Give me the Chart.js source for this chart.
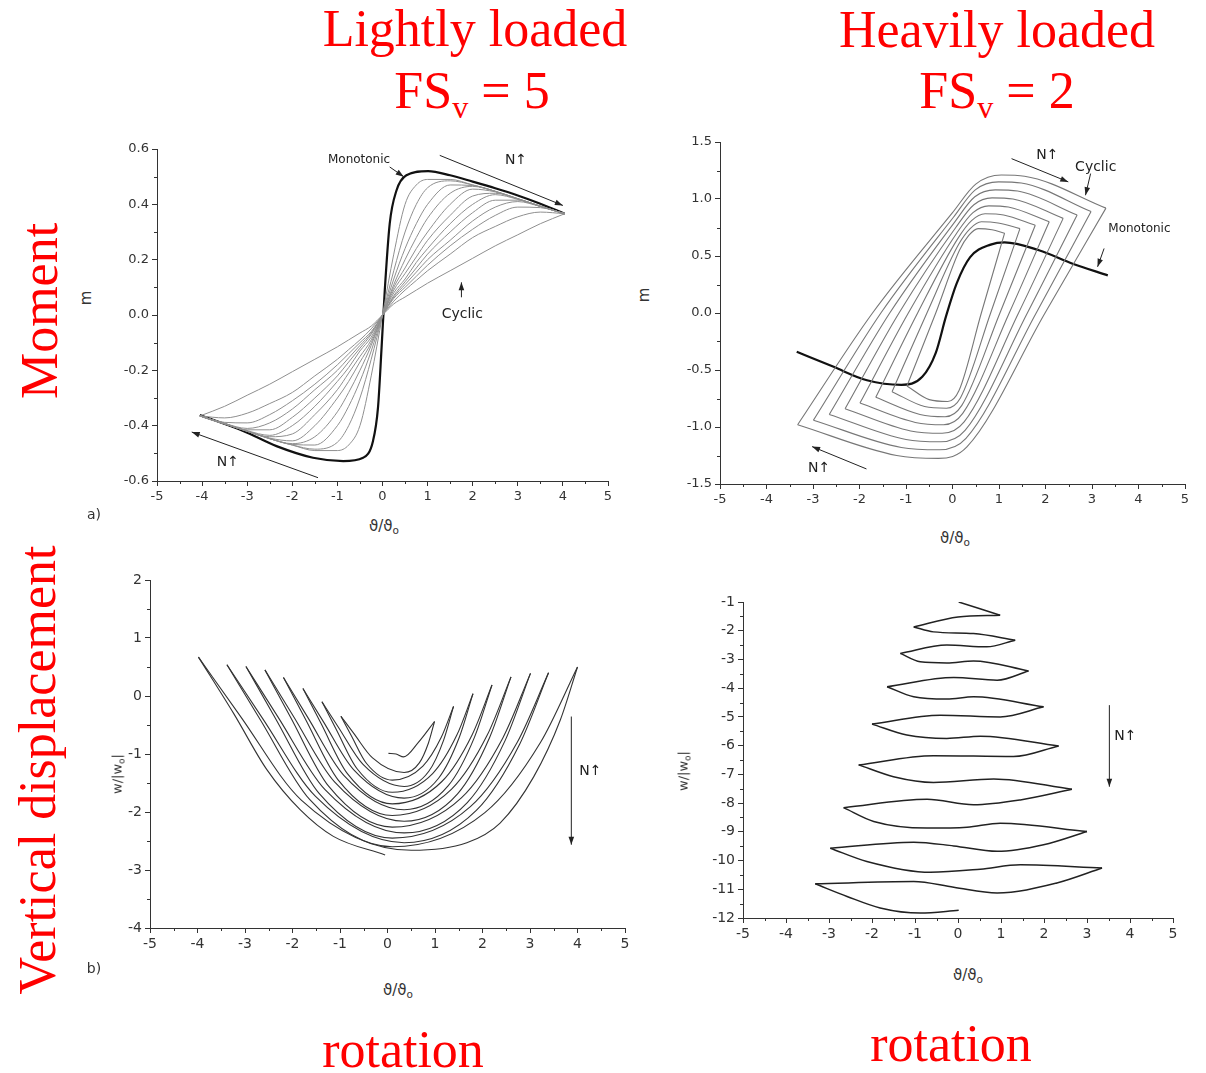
<!DOCTYPE html>
<html>
<head>
<meta charset="utf-8">
<script src="https://cdn.jsdelivr.net/npm/chart.js@4.4.1/dist/chart.umd.min.js"></script>
<style>
  body { margin: 0; background: #fff; }
  #page { position: relative; width: 1206px; height: 1073px; overflow: hidden; background: #fff; }
  canvas { position: absolute; }
  .red { position: absolute; color: #f00; font-family: 'Liberation Serif', 'Times New Roman', serif; font-size: 52px; line-height: 1; white-space: nowrap; transform: translateX(-50%); }
  .red sub { font-size: 0.62em; vertical-align: -0.3em; line-height: 0; }
  .redv { position: absolute; color: #f00; font-family: 'Liberation Serif', 'Times New Roman', serif; font-size: 52px; line-height: 1; white-space: nowrap; transform: translate(-50%, -50%) rotate(-90deg); }
  .lab { position: absolute; color: #333; font-family: 'DejaVu Sans', 'Liberation Sans', sans-serif; font-size: 15px; line-height: 1; white-space: nowrap; transform: translate(-50%, -50%); }
  .lab.v { transform: translate(-50%, -50%) rotate(-90deg); }
  .lab sub { font-size: 0.7em; vertical-align: -0.35em; line-height: 0; }
</style>
</head>
<body>
<div id="page">
  <div class="red" style="left:475px; top:3px">Lightly loaded</div>
  <div class="red" style="left:472px; top:65px">FS<sub>v</sub> = 5</div>
  <div class="red" style="left:997px; top:4px">Heavily loaded</div>
  <div class="red" style="left:997px; top:65px">FS<sub>v</sub> = 2</div>
  <div class="redv" style="left:40px; top:311px">Moment</div>
  <div class="redv" style="left:38px; top:770px">Vertical displacement</div>
  <div class="red" style="left:403px; top:1024px">rotation</div>
  <div class="red" style="left:951px; top:1018px">rotation</div>

  <canvas id="chartA" width="529" height="379" style="left:97px; top:134px"></canvas>
  <canvas id="chartB" width="543" height="389" style="left:660px; top:127px"></canvas>
  <canvas id="chartC" width="553" height="395" style="left:90px; top:565px"></canvas>
  <canvas id="chartD" width="508" height="363" style="left:683px; top:587px"></canvas>

  <div class="lab v" style="left:86px; top:298px">m</div>
  <div class="lab v" style="left:644px; top:295px">m</div>
  <div class="lab v" style="left:117px; top:774px; font-size:13px">w/|w<sub>o</sub>|</div>
  <div class="lab v" style="left:683px; top:771px; font-size:13px">w/|w<sub>o</sub>|</div>
  <div class="lab" style="left:384px; top:526px">&#977;/&#977;<sub>o</sub></div>
  <div class="lab" style="left:955px; top:538px">&#977;/&#977;<sub>o</sub></div>
  <div class="lab" style="left:398px; top:990px">&#977;/&#977;<sub>o</sub></div>
  <div class="lab" style="left:968px; top:975px">&#977;/&#977;<sub>o</sub></div>
  <div class="lab" style="left:94px; top:514px; font-size:14px">a)</div>
  <div class="lab" style="left:94px; top:968px; font-size:14px">b)</div>
</div>

<script>
// ---- a) lightly loaded, moment vs rotation ----
const rotA = [-4.05, -3.5, -3, -2.5, -2, -1.5, -1, -0.75, -0.5, -0.25, 0, 0.25, 0.5, 0.75, 1, 1.5, 2, 2.5, 3, 3.5, 4.04];
const momentCycA = [
  [-0.365, -0.393, -0.42, -0.447, -0.47, -0.49, -0.49, -0.47, -0.40, -0.22, 0, 0.22, 0.40, 0.47, 0.49, 0.49, 0.47, 0.447, 0.42, 0.393, 0.366],
  [-0.365, -0.393, -0.42, -0.447, -0.47, -0.485, -0.46, -0.40, -0.30, -0.16, 0, 0.16, 0.30, 0.40, 0.46, 0.485, 0.47, 0.447, 0.42, 0.393, 0.366],
  [-0.365, -0.393, -0.42, -0.447, -0.468, -0.47, -0.40, -0.33, -0.24, -0.13, 0, 0.13, 0.24, 0.33, 0.40, 0.47, 0.468, 0.447, 0.42, 0.393, 0.366],
  [-0.365, -0.393, -0.42, -0.447, -0.465, -0.44, -0.35, -0.28, -0.20, -0.11, 0, 0.11, 0.20, 0.28, 0.35, 0.44, 0.465, 0.447, 0.42, 0.393, 0.366],
  [-0.365, -0.393, -0.42, -0.445, -0.455, -0.40, -0.30, -0.24, -0.17, -0.10, 0, 0.10, 0.17, 0.24, 0.30, 0.40, 0.455, 0.445, 0.42, 0.393, 0.366],
  [-0.365, -0.393, -0.42, -0.44, -0.43, -0.36, -0.27, -0.21, -0.15, -0.09, 0, 0.09, 0.15, 0.21, 0.27, 0.36, 0.43, 0.44, 0.42, 0.393, 0.366],
  [-0.365, -0.393, -0.418, -0.435, -0.40, -0.33, -0.24, -0.19, -0.13, -0.08, 0, 0.08, 0.13, 0.19, 0.24, 0.33, 0.40, 0.435, 0.418, 0.393, 0.366],
  [-0.365, -0.393, -0.415, -0.415, -0.37, -0.30, -0.22, -0.17, -0.12, -0.07, 0, 0.07, 0.12, 0.17, 0.22, 0.30, 0.37, 0.415, 0.415, 0.393, 0.366],
  [-0.365, -0.392, -0.41, -0.39, -0.34, -0.27, -0.20, -0.155, -0.11, -0.065, 0, 0.065, 0.11, 0.155, 0.20, 0.27, 0.34, 0.39, 0.41, 0.392, 0.366],
  [-0.365, -0.388, -0.39, -0.36, -0.31, -0.25, -0.18, -0.14, -0.10, -0.06, 0, 0.06, 0.10, 0.14, 0.18, 0.25, 0.31, 0.36, 0.39, 0.388, 0.366],
  [-0.365, -0.372, -0.355, -0.32, -0.28, -0.22, -0.16, -0.125, -0.09, -0.05, 0, 0.05, 0.09, 0.125, 0.16, 0.22, 0.28, 0.32, 0.355, 0.372, 0.366],
  [-0.365, -0.33, -0.29, -0.25, -0.205, -0.16, -0.115, -0.09, -0.065, -0.04, 0, 0.04, 0.065, 0.09, 0.115, 0.16, 0.205, 0.25, 0.29, 0.33, 0.366]
];
const monoRotA = [-4.05, -3.09, -2.35, -1.54, -0.87, -0.43, -0.21, -0.10, -0.02, 0.05, 0.16, 0.31, 0.53, 1.01, 1.5, 2.0, 2.5, 3.0, 3.5, 4.04];
const monoMomA = [-0.362, -0.419, -0.474, -0.516, -0.528, -0.516, -0.455, -0.335, -0.117, 0.088, 0.33, 0.45, 0.505, 0.52, 0.505, 0.482, 0.458, 0.432, 0.402, 0.366];

// ---- heavily loaded, moment vs rotation (closed cycles, inner to outer) ----
const cycRotB = [
  [-0.98, -0.36, 0.15, 0.35, 0.55, 0.85, 1.12, 0.62, 0.14, -0.10, -0.50, -0.98],
  [-1.30, -0.55, 0.13, 0.38, 0.62, 0.98, 1.45, 0.82, 0.17, -0.13, -0.60, -1.30],
  [-1.65, -0.75, 0.11, 0.41, 0.70, 1.10, 1.78, 1.02, 0.20, -0.16, -0.70, -1.65],
  [-1.99, -0.95, 0.09, 0.44, 0.78, 1.20, 2.08, 1.22, 0.22, -0.19, -0.80, -1.99],
  [-2.31, -1.15, 0.07, 0.46, 0.85, 1.30, 2.38, 1.42, 0.25, -0.22, -0.90, -2.31],
  [-2.65, -1.35, 0.05, 0.48, 0.92, 1.40, 2.68, 1.61, 0.27, -0.25, -1.00, -2.65],
  [-2.99, -1.54, 0.02, 0.49, 0.99, 1.48, 2.98, 1.80, 0.29, -0.28, -1.10, -2.99],
  [-3.33, -1.72, 0.00, 0.50, 1.05, 1.55, 3.30, 1.99, 0.31, -0.30, -1.20, -3.33]
];
const cycMomB = [
  [-0.64, 0, 0.55, 0.68, 0.74, 0.73, 0.70, 0, -0.68, -0.776, -0.76, -0.64],
  [-0.69, 0, 0.60, 0.74, 0.80, 0.79, 0.74, 0, -0.745, -0.835, -0.82, -0.69],
  [-0.74, 0, 0.65, 0.81, 0.87, 0.86, 0.77, 0, -0.81, -0.91, -0.89, -0.74],
  [-0.79, 0, 0.70, 0.88, 0.94, 0.93, 0.80, 0, -0.88, -0.98, -0.96, -0.79],
  [-0.84, 0, 0.75, 0.95, 1.01, 1.00, 0.83, 0, -0.955, -1.055, -1.035, -0.84],
  [-0.89, 0, 0.80, 1.02, 1.08, 1.07, 0.86, 0, -1.03, -1.13, -1.11, -0.89],
  [-0.94, 0, 0.84, 1.08, 1.15, 1.14, 0.89, 0, -1.10, -1.20, -1.18, -0.94],
  [-0.98, 0, 0.88, 1.13, 1.21, 1.20, 0.92, 0, -1.175, -1.275, -1.25, -0.98]
];
const monoRotB = [-3.35, -2.57, -1.84, -1.1, -0.65, -0.36, -0.14, 0.09, 0.38, 0.82, 1.12, 1.86, 2.6, 3.34];
const monoMomB = [-0.34, -0.47, -0.59, -0.63, -0.56, -0.35, -0.03, 0.26, 0.49, 0.60, 0.62, 0.55, 0.43, 0.33];

// ---- b) lightly loaded, settlement vs rotation (one continuous path) ----
const rotC = [
  0.02, 0.18, 0.34, 0.65, 0.99,
  0.862, 0.67, 0.35, -0.315, -0.714, -0.98,
  -0.764, -0.44, 0.10, 0.745, 1.132, 1.39,
  1.182, 0.87, 0.35, -0.515, -1.034, -1.38,
  -1.084, -0.64, 0.10, 0.95, 1.46, 1.80,
  1.51, 1.075, 0.35, -0.715, -1.354, -1.78,
  -1.404, -0.84, 0.10, 1.15, 1.78, 2.20,
  1.83, 1.275, 0.35, -0.92, -1.682, -2.19,
  -1.732, -1.045, 0.10, 1.35, 2.10, 2.60,
  2.15, 1.475, 0.35, -1.115, -1.994, -2.58,
  -2.044, -1.24, 0.10, 1.555, 2.428, 3.01,
  2.478, 1.68, 0.35, -1.315, -2.314, -2.98,
  -2.364, -1.44, 0.10, 1.745, 2.732, 3.39,
  2.782, 1.87, 0.35, -1.515, -2.634, -3.38,
  -2.684, -1.64, 0.10, 2.05, 3.22, 4.00,
  3.64, 3.08, 2.37, 1.67, 0.50, -1.815, -3.114, -3.98,
  -3.24, -2.54, -1.84, -1.14, -0.05
];
const dispC = [
  -0.99, -1.00, -1.05, -0.80, -0.44,
  -0.81, -1.153, -1.32, -1.068, -0.641, -0.35,
  -0.68, -1.164, -1.45, -1.209, -0.713, -0.18,
  -0.76, -1.298, -1.56, -1.18, -0.538, -0.10,
  -0.568, -1.254, -1.66, -1.337, -0.674, 0.04,
  -0.716, -1.418, -1.76, -1.269, -0.437, 0.13,
  -0.467, -1.343, -1.86, -1.47, -0.671, 0.19,
  -0.713, -1.551, -1.96, -1.367, -0.364, 0.32,
  -0.394, -1.441, -2.06, -1.606, -0.674, 0.33,
  -0.716, -1.687, -2.16, -1.481, -0.333, 0.45,
  -0.363, -1.555, -2.26, -1.756, -0.723, 0.39,
  -0.765, -1.837, -2.36, -1.614, -0.351, 0.51,
  -0.378, -1.68, -2.45, -1.908, -0.797, 0.40,
  -0.831, -1.973, -2.53, -1.732, -0.381, 0.54,
  -0.402, -1.784, -2.60, -2.011, -0.802, 0.50,
  -0.41, -1.39, -2.19, -2.53, -2.66, -1.794, -0.329, 0.67,
  -0.30, -1.27, -1.96, -2.42, -2.74
];

// ---- heavily loaded, settlement vs rotation ----
const rotD = [0.016, 0.98, 0.0, -1.03, -0.57, 0.36, 1.33, 0.67, -0.26, -1.34, -0.88, -0.26, 0.36, 1.64,
  0.91, -0.1, -1.65, -1.03, -0.26, 0.36, 1.99, 0.98, -0.41, -2.0, -1.19, -0.26, 0.52, 2.34,
  1.29, -0.57, -2.31, -1.5, -0.57, 0.83, 2.65, 1.45, 0.36, -0.72, -2.66, -1.96, -0.72, 0.21, 0.98, 3.0,
  1.99, 0.91, -0.1, -1.03, -2.97, -2.12, -0.64, 0.52, 1.45, 3.35, 2.3, 0.91, -0.1, -1.03, -3.32,
  -2.58, -1.81, -0.88, 0.016];
const dispD = [-1.0, -1.46, -1.52, -1.87, -2.04, -2.1, -2.33, -2.56, -2.5, -2.79, -3.08, -3.12, -3.05, -3.40,
  -3.72, -3.63, -3.95, -4.3, -4.38, -4.3, -4.65, -5.0, -4.94, -5.25, -5.63, -5.75, -5.67, -6.01,
  -6.38, -6.35, -6.67, -7.08, -7.28, -7.16, -7.52, -7.89, -8.06, -7.87, -8.16, -8.64, -8.87, -8.84, -8.7, -8.99,
  -9.45, -9.68, -9.49, -9.36, -9.57, -10.03, -10.41, -10.3, -10.15, -10.26, -10.78, -11.13, -10.93, -10.73, -10.81,
  -11.25, -11.65, -11.83, -11.73];

Chart.defaults.font.family = "'DejaVu Sans', 'Liberation Sans', sans-serif";
Chart.defaults.color = '#333';
Chart.defaults.animation = false;
Chart.defaults.plugins.legend.display = false;
Chart.defaults.plugins.tooltip.enabled = false;

function toPoints(xs, ys) {
  return xs.map((x, i) => ({ x: x, y: ys[i] }));
}

// cut a path wherever it turns back in x, so the reversal tips stay sharp
function splitPath(xs, ys) {
  const segs = [];
  let cur = [{ x: xs[0], y: ys[0] }];
  let dir = 0;
  for (let i = 1; i < xs.length; i++) {
    const d = Math.sign(xs[i] - xs[i - 1]);
    if (dir !== 0 && d !== 0 && d !== dir) {
      segs.push(cur);
      cur = [{ x: xs[i - 1], y: ys[i - 1] }];
    }
    if (d !== 0) dir = d;
    cur.push({ x: xs[i], y: ys[i] });
  }
  segs.push(cur);
  return segs;
}

const fmt1 = v => (Math.abs(v) < 1e-9 ? 0 : v).toFixed(1);
const fmt0 = v => String(Math.round(v));

// small unlabelled ticks half way between the labelled ones
const minorTicks = {
  id: 'minorTicks',
  afterDraw(chart, args, opts) {
    const { ctx, chartArea, scales } = chart;
    ctx.save();
    ctx.strokeStyle = '#333';
    ctx.lineWidth = 1;
    ctx.beginPath();
    const sx = scales.x, sy = scales.y;
    const nx = Math.round((sx.max - sx.min) / opts.x);
    for (let k = 1; k < nx; k += 2) {
      const px = Math.round(sx.getPixelForValue(sx.min + k * opts.x)) + 0.5;
      ctx.moveTo(px, chartArea.bottom);
      ctx.lineTo(px, chartArea.bottom + 3);
    }
    const ny = Math.round((sy.max - sy.min) / opts.y);
    for (let k = 1; k < ny; k += 2) {
      const py = Math.round(sy.getPixelForValue(sy.min + k * opts.y)) + 0.5;
      ctx.moveTo(chartArea.left, py);
      ctx.lineTo(chartArea.left - 3, py);
    }
    ctx.stroke();
    ctx.restore();
  }
};

// text notes and arrows placed in data units
const notes = {
  id: 'notes',
  afterDatasetsDraw(chart, args, opts) {
    const { ctx, scales: { x, y } } = chart;
    ctx.save();
    ctx.strokeStyle = '#222';
    ctx.fillStyle = '#222';
    ctx.lineWidth = 1;
    (opts.arrows || []).forEach(a => {
      const x1 = x.getPixelForValue(a[0]), y1 = y.getPixelForValue(a[1]);
      const x2 = x.getPixelForValue(a[2]), y2 = y.getPixelForValue(a[3]);
      const ang = Math.atan2(y2 - y1, x2 - x1);
      ctx.beginPath();
      ctx.moveTo(x1, y1);
      ctx.lineTo(x2, y2);
      ctx.stroke();
      ctx.beginPath();
      ctx.moveTo(x2, y2);
      ctx.lineTo(x2 - 8 * Math.cos(ang) + 2.8 * Math.sin(ang), y2 - 8 * Math.sin(ang) - 2.8 * Math.cos(ang));
      ctx.lineTo(x2 - 8 * Math.cos(ang) - 2.8 * Math.sin(ang), y2 - 8 * Math.sin(ang) + 2.8 * Math.cos(ang));
      ctx.closePath();
      ctx.fill();
    });
    ctx.textAlign = 'center';
    ctx.textBaseline = 'middle';
    (opts.labels || []).forEach(t => {
      ctx.font = t.size + "px 'DejaVu Sans', sans-serif";
      ctx.fillText(t.text, x.getPixelForValue(t.x), y.getPixelForValue(t.y));
    });
    ctx.restore();
  }
};

function axis(min, max, step, fmt, size, fit) {
  return {
    type: 'linear', min: min, max: max,
    border: { display: true, color: '#333', width: 1 },
    grid: { drawOnChartArea: false, drawTicks: true, tickLength: 5, tickColor: '#333' },
    ticks: { stepSize: step, autoSkip: false, font: { size: size }, color: '#333', padding: 3, callback: fmt },
    afterFit: fit
  };
}

function makeChart(id, datasets, xAxis, yAxis, minor, noteOpts) {
  return new Chart(document.getElementById(id), {
    type: 'scatter',
    data: { datasets: datasets },
    options: {
      responsive: false,
      devicePixelRatio: 1,
      layout: { padding: { left: 0, top: 15, right: 18, bottom: 0 } },
      elements: { point: { radius: 0 } },
      datasets: { scatter: { showLine: true } },
      scales: { x: xAxis, y: yAxis },
      plugins: { minorTicks: minor, notes: noteOpts }
    },
    plugins: [minorTicks, notes]
  });
}

const fitX = s => { s.height = 32; };
const fitY = s => { s.width = 60; };

// a) moment, FSv = 5
const dsA = momentCycA.map(ys => ({
  data: toPoints(rotA, ys), borderColor: '#8f8f8f', borderWidth: 1, cubicInterpolationMode: 'monotone'
}));
dsA.push({ data: toPoints(monoRotA, monoMomA), borderColor: '#111', borderWidth: 2.2, cubicInterpolationMode: 'monotone' });
makeChart('chartA', dsA,
  axis(-5, 5, 1, fmt0, 13, fitX), axis(-0.6, 0.6, 0.2, fmt1, 13, fitY),
  { x: 0.5, y: 0.1 },
  {
    labels: [
      { text: 'Monotonic', x: -0.52, y: 0.559, size: 12 },
      { text: 'N\u2191', x: 2.96, y: 0.559, size: 14 },
      { text: 'Cyclic', x: 1.77, y: 0.004, size: 14 },
      { text: 'N\u2191', x: -3.43, y: -0.534, size: 14 }
    ],
    arrows: [[0.16, 0.535, 0.47, 0.50], [1.27, 0.577, 4.0, 0.396], [-1.43, -0.588, -4.23, -0.423], [1.75, 0.064, 1.75, 0.118]]
  });

// moment, FSv = 2
const dsB = [];
cycRotB.forEach((xs, i) => {
  splitPath(xs, cycMomB[i]).forEach(seg => {
    dsB.push({ data: seg, borderColor: '#777', borderWidth: 1.1, cubicInterpolationMode: 'monotone' });
  });
});
dsB.push({ data: toPoints(monoRotB, monoMomB), borderColor: '#111', borderWidth: 2.2, cubicInterpolationMode: 'monotone' });
makeChart('chartB', dsB,
  axis(-5, 5, 1, fmt0, 13, fitX), axis(-1.5, 1.5, 0.5, fmt1, 13, fitY),
  { x: 0.5, y: 0.25 },
  {
    labels: [
      { text: 'N\u2191', x: 2.04, y: 1.383, size: 14 },
      { text: 'Cyclic', x: 3.08, y: 1.281, size: 14 },
      { text: 'Monotonic', x: 4.02, y: 0.741, size: 12 },
      { text: 'N\u2191', x: -2.87, y: -1.362, size: 14 }
    ],
    arrows: [[1.27, 1.354, 2.49, 1.15], [2.97, 1.223, 2.86, 1.033], [3.26, 0.566, 3.12, 0.405], [-1.85, -1.368, -3.02, -1.172]]
  });

// b) settlement, FSv = 5
const dsC = splitPath(rotC, dispC).map(seg => ({ data: seg, borderColor: '#333', borderWidth: 1.1, cubicInterpolationMode: 'monotone' }));
makeChart('chartC', dsC,
  axis(-5, 5, 1, fmt0, 14, fitX), axis(-4, 2, 1, fmt0, 14, fitY),
  { x: 0.5, y: 0.5 },
  {
    labels: [{ text: 'N\u2191', x: 4.27, y: -1.30, size: 14 }],
    arrows: [[3.87, -0.354, 3.87, -2.564]]
  });

// settlement, FSv = 2
const dsD = splitPath(rotD, dispD).map(seg => ({ data: seg, borderColor: '#222', borderWidth: 1.5, cubicInterpolationMode: 'monotone' }));
makeChart('chartD', dsD,
  axis(-5, 5, 1, fmt0, 14, fitX), axis(-12, -1, 1, fmt0, 14, fitY),
  { x: 0.5, y: 0.5 },
  {
    labels: [{ text: 'N\u2191', x: 3.89, y: -5.69, size: 14 }],
    arrows: [[3.52, -4.59, 3.52, -7.43]]
  });
</script>
</body>
</html>
